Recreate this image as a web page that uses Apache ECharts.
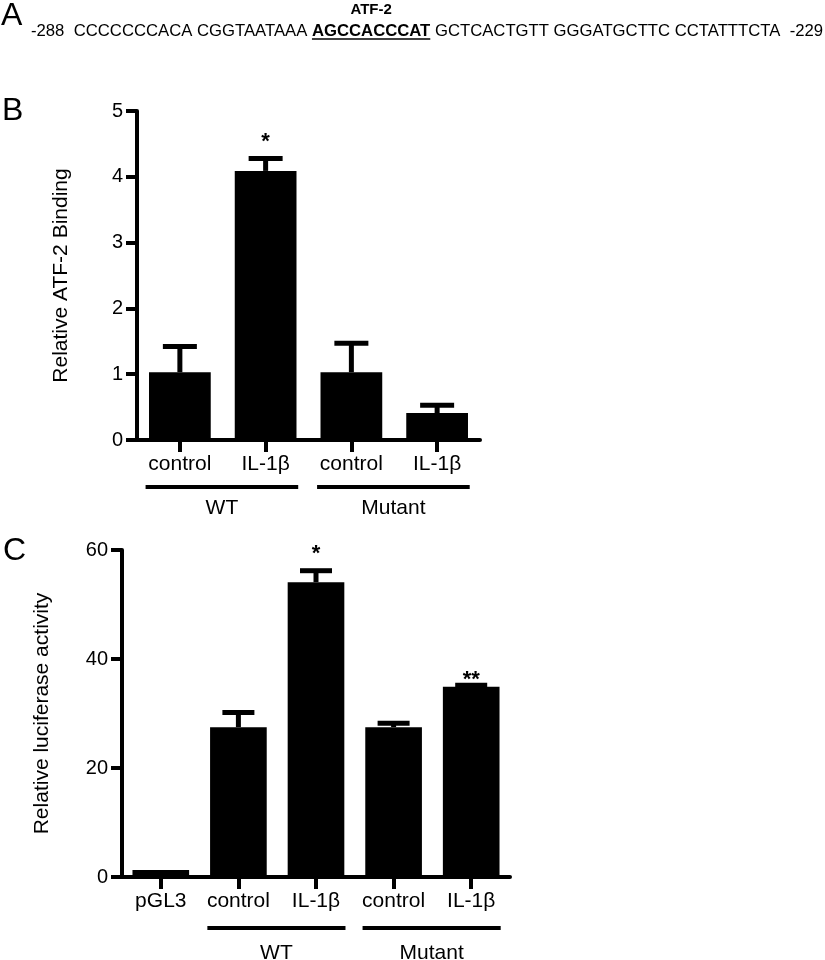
<!DOCTYPE html>
<html>
<head>
<meta charset="utf-8">
<script src="https://cdn.jsdelivr.net/npm/echarts@6/dist/echarts.min.js"></script>
<style>
  html, body { margin: 0; padding: 0; background: #fff; }
  #chart { width: 825px; height: 960px; }
</style>
</head>
<body>
<div id="chart"></div>
<script>
// panel A: promoter sequence
const seqPrefix = '-288  CCCCCCCACA CGGTAATAAA '
const seqSite = 'AGCCACCCAT'
const seqSuffix = ' GCTCACTGTT GGGATGCTTC CCTATTTCTA  -229'
const siteName = 'ATF-2'

// panel B: ChIP, relative ATF-2 binding
const bLabels = ['control', 'IL-1β', 'control', 'IL-1β']
const bMean = [1.03, 4.09, 1.03, 0.41]
const bUpper = [1.42, 4.28, 1.47, 0.53]
const bStars = ['', '*', '', '']
const bGroups = [
  { name: 'WT', from: 0, to: 1 },
  { name: 'Mutant', from: 2, to: 3 },
]
const bTicks = [0, 1, 2, 3, 4, 5]

// panel C: luciferase reporter
const cLabels = ['pGL3', 'control', 'IL-1β', 'control', 'IL-1β']
const cMean = [1.3, 27.5, 54.1, 27.5, 34.9]
const cUpper = [1.3, 30.2, 56.2, 28.2, 35.2]
const cStars = ['', '', '*', '', '**']
const cGroups = [
  { name: 'WT', from: 1, to: 2 },
  { name: 'Mutant', from: 3, to: 4 },
]
const cTicks = [0, 20, 40, 60]

const FONT = '"Liberation Sans", Arial, sans-serif'

const chart = echarts.init(document.getElementById('chart'), null, { renderer: 'canvas' })

function yAxis(gridIndex, ticks, name, nameGap) {
  return {
    type: 'value',
    gridIndex,
    min: ticks[0],
    max: ticks[ticks.length - 1],
    interval: ticks[1] - ticks[0],
    name,
    nameLocation: 'middle',
    nameGap,
    nameTextStyle: { fontFamily: FONT, fontSize: 21, color: '#000' },
    axisLine: { show: true, lineStyle: { color: '#000', width: 4 } },
    axisTick: { show: true, length: 11, lineStyle: { color: '#000', width: 4 } },
    axisLabel: { fontFamily: FONT, fontSize: 20, color: '#000', margin: 14 },
    splitLine: { show: false },
  }
}

function xAxis(gridIndex, labels) {
  return {
    type: 'category',
    gridIndex,
    data: labels,
    axisLine: { show: true, lineStyle: { color: '#000', width: 4 } },
    axisTick: { show: true, alignWithLabel: true, length: 12, lineStyle: { color: '#000', width: 4 } },
    axisLabel: { fontFamily: FONT, fontSize: 21, color: '#000', margin: 14, interval: 0 },
  }
}

function errorSeries(idx, mean, upper, stars, capWidth, starGap) {
  return {
    type: 'custom',
    xAxisIndex: idx,
    yAxisIndex: idx,
    silent: true,
    z: 3,
    data: mean.map((m, i) => [i, m, upper[i]]),
    renderItem(params, api) {
      const base = api.coord([api.value(0), api.value(1)])
      const top = api.coord([api.value(0), api.value(2)])
      const star = stars[params.dataIndex]
      const half = capWidth / 2
      const children = []
      if (api.value(2) > api.value(1)) {
        children.push(
          { type: 'line', shape: { x1: top[0], y1: base[1], x2: top[0], y2: top[1] }, style: { stroke: '#000', lineWidth: 5 } },
          { type: 'line', shape: { x1: top[0] - half, y1: top[1], x2: top[0] + half, y2: top[1] }, style: { stroke: '#000', lineWidth: 5 } }
        )
      }
      if (star) {
        children.push({
          type: 'text',
          style: {
            text: star, x: top[0], y: top[1] - starGap[star],
            align: 'center', verticalAlign: 'middle',
            font: 'bold 22px ' + FONT, fill: '#000',
          },
        })
      }
      return { type: 'group', children }
    },
  }
}

chart.setOption({
  animation: false,
  backgroundColor: '#fff',
  grid: [
    { left: 137, top: 111, right: 345, bottom: 520 },
    { left: 122, top: 550, right: 315, bottom: 83 },
  ],
  xAxis: [xAxis(0, bLabels), xAxis(1, cLabels)],
  yAxis: [
    yAxis(0, bTicks, 'Relative ATF-2 Binding', 65),
    yAxis(1, cTicks, 'Relative luciferase activity', 69),
  ],
  series: [
    { type: 'bar', xAxisIndex: 0, yAxisIndex: 0, data: bMean, barWidth: '72%', itemStyle: { color: '#000' } },
    errorSeries(0, bMean, bUpper, bStars, 34, { '*': 16 }),
    { type: 'bar', xAxisIndex: 1, yAxisIndex: 1, data: cMean, barWidth: '73%', itemStyle: { color: '#000' } },
    errorSeries(1, cMean, cUpper, cStars, 32, { '*': 17, '**': 5 }),
  ],
})

// annotations: panel letters, sequence, group underlines
const ctx = document.createElement('canvas').getContext('2d')
const seqFont = '16.7px ' + FONT
const siteFont = 'bold 16.7px ' + FONT
ctx.font = seqFont
const prefixW = ctx.measureText(seqPrefix).width
ctx.font = siteFont
const siteW = ctx.measureText(seqSite).width
const seqX = 31
const seqY = 31

const graphics = [
  { type: 'text', left: 1, top: 0, style: { text: 'A', font: '32px ' + FONT, fill: '#000' } },
  { type: 'text', left: 2, top: 95, style: { text: 'B', font: '32px ' + FONT, fill: '#000' } },
  { type: 'text', left: 3, top: 535, style: { text: 'C', font: '32px ' + FONT, fill: '#000' } },
  { type: 'text', x: seqX + prefixW + siteW / 2, y: 10, style: { text: siteName, font: 'bold 15px ' + FONT, fill: '#000', align: 'center', verticalAlign: 'middle' } },
  { type: 'text', x: seqX, y: seqY, style: { text: seqPrefix, font: seqFont, fill: '#000', verticalAlign: 'middle' } },
  { type: 'text', x: seqX + prefixW, y: seqY, style: { text: seqSite, font: siteFont, fill: '#000', verticalAlign: 'middle' } },
  { type: 'text', x: seqX + prefixW + siteW, y: seqY, style: { text: seqSuffix, font: seqFont, fill: '#000', verticalAlign: 'middle' } },
  { type: 'line', shape: { x1: seqX + prefixW, y1: seqY + 8, x2: seqX + prefixW + siteW, y2: seqY + 8 }, style: { stroke: '#000', lineWidth: 1.5 } },
]

function groupMarks(axisIndex, groups, lineY, textY) {
  const px = (i) => chart.convertToPixel({ xAxisIndex: axisIndex }, i)
  const band = px(1) - px(0)
  groups.forEach((g) => {
    const x1 = px(g.from) - band * 0.4
    const x2 = px(g.to) + band * 0.38
    graphics.push({ type: 'line', shape: { x1, y1: lineY, x2, y2: lineY }, style: { stroke: '#000', lineWidth: 4 } })
    graphics.push({ type: 'text', x: (x1 + x2) / 2, y: textY, style: { text: g.name, font: '21px ' + FONT, fill: '#000', align: 'center', verticalAlign: 'middle' } })
  })
}
groupMarks(0, bGroups, 487, 508)
groupMarks(1, cGroups, 928, 953)

chart.setOption({ graphic: graphics })
</script>
</body>
</html>
